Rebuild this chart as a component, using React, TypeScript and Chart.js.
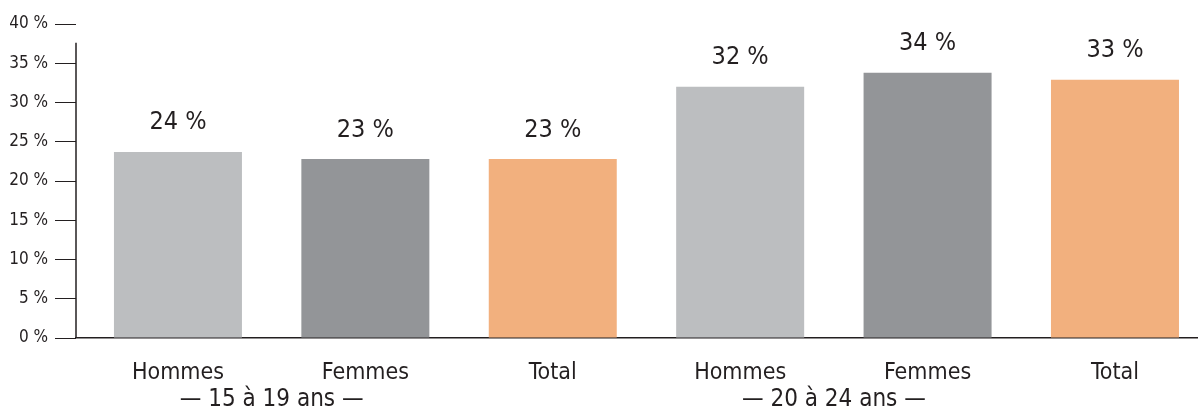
import React, { useEffect, useRef } from "react";
import { Chart, registerables } from "chart.js";

Chart.register(...registerables);

const categories = ["Hommes", "Femmes", "Total", "Hommes", "Femmes", "Total"];
const values = [23.7, 22.8, 22.8, 32.0, 33.8, 32.9];
const valueLabels = ["24 %", "23 %", "23 %", "32 %", "34 %", "33 %"];
const groupLabels = ["— 15 à 19 ans —", "— 20 à 24 ans —"];
const groupFirstIndex = [0, 3];
const barColors = ["#bcbec0", "#939598", "#f2b07e", "#bcbec0", "#939598", "#f2b07e"];
const yMin = 0;
const yMax = 40;
const yStep = 5;

const FONT = '"Liberation Sans Narrow", "DejaVu Sans Condensed", "Roboto Condensed", "Liberation Sans", sans-serif';
const INK = "#231f20";

export default function App() {
  const ref = useRef<HTMLCanvasElement | null>(null);

  useEffect(() => {
    const canvas = ref.current;
    if (!canvas) return;

    const decorations = {
      id: "decorations",
      afterDatasetsDraw(chart: any) {
        const ctx = chart.ctx;
        const y = chart.scales.y;
        const x = chart.scales.x;
        const area = chart.chartArea;
        ctx.save();
        // y axis line (starts a little below the top tick)
        ctx.strokeStyle = INK;
        ctx.lineWidth = 1.5;
        ctx.beginPath();
        ctx.moveTo(area.left, y.getPixelForValue(37.6));
        ctx.lineTo(area.left, area.bottom);
        ctx.stroke();
        // value labels
        ctx.fillStyle = INK;
        ctx.font = `25px ${FONT}`;
        ctx.textAlign = "center";
        ctx.textBaseline = "middle";
        const meta = chart.getDatasetMeta(0);
        meta.data.forEach((bar: any, i: number) => {
          ctx.fillText(valueLabels[i], bar.x, bar.y - 29);
        });
        // group labels
        ctx.font = `24px ${FONT}`;
        groupLabels.forEach((g, gi) => {
          const i0 = groupFirstIndex[gi];
          const cx = (x.getPixelForValue(i0) + x.getPixelForValue(i0 + 1)) / 2;
          ctx.fillText(g, cx, area.bottom + 62);
        });
        ctx.restore();
      },
    };

    const chart = new Chart(canvas, {
      type: "bar",
      data: {
        datasets: [
          {
            data: categories.map((_, i) => ({ x: i, y: values[i] })),
            backgroundColor: barColors,
            borderWidth: 0,
            barPercentage: 0.683,
            categoryPercentage: 1,
          },
        ],
      },
      options: {
        responsive: false,
        animation: false,
        layout: { padding: { top: 24, right: 0, bottom: 0, left: 0 } },
        plugins: {
          legend: { display: false },
          tooltip: { enabled: false },
          title: { display: false },
        },
        scales: {
          x: {
            type: "linear",
            offset: false,
            min: -0.544,
            max: 5.443,
            z: 1,
            grid: { display: false, drawTicks: false, offset: false },
            border: { display: true, color: INK, width: 1.5 },
            afterBuildTicks: (scale: any) => {
              scale.ticks = categories.map((_, i) => ({ value: i }));
            },
            afterFit: (scale: any) => {
              scale.height = 75;
            },
            ticks: {
              autoSkip: false,
              maxRotation: 0,
              padding: 21,
              color: INK,
              font: { family: FONT, size: 23 },
              callback: (v: any) => categories[Number(v)] ?? "",
            },
          },
          y: {
            min: yMin,
            max: yMax,
            grid: {
              drawOnChartArea: false,
              drawTicks: true,
              tickLength: 21,
              color: INK,
              lineWidth: 1,
            },
            border: { display: false },
            afterFit: (scale: any) => {
              scale.width = 76;
            },
            ticks: {
              stepSize: yStep,
              padding: 7,
              color: INK,
              font: { family: FONT, size: 17 },
              callback: (v: any) => `${v} %`,
            },
          },
        },
      },
      plugins: [decorations],
    });

    return () => chart.destroy();
  }, []);

  return (
    <div style={{ position: "absolute", left: 0, top: 0, width: 1198, height: 413, background: "#fff" }}>
      <canvas ref={ref} width={1198} height={413} style={{ display: "block" }} />
    </div>
  );
}
